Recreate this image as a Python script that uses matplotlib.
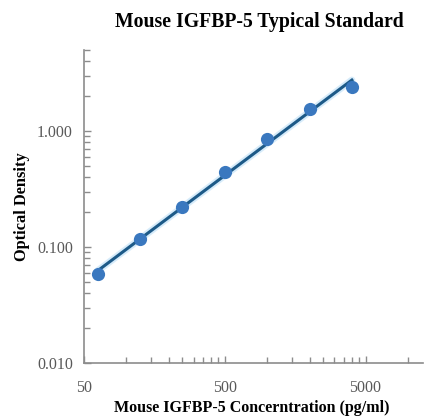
import numpy as np
import matplotlib
matplotlib.use("Agg")
import matplotlib.pyplot as plt
from matplotlib.ticker import FixedLocator, FixedFormatter, NullFormatter

conc = [62.5, 125, 250, 500, 1000, 2000, 4000]
od = [0.058, 0.117, 0.221, 0.443, 0.853, 1.55, 2.39]
x_ticks = [50, 500, 5000]
x_tick_labels = ["50", "500", "5000"]
y_ticks = [0.01, 0.1, 1.0]
y_tick_labels = ["0.010", "0.100", "1.000"]

title = "Mouse IGFBP-5 Typical Standard"
xlabel = "Mouse IGFBP-5 Concerntration (pg/ml)"
ylabel = "Optical Density"

serif = ["Liberation Serif", "DejaVu Serif"]
grey = "#8c8c8c"
label_grey = "#595959"

fig = plt.figure(figsize=(4.24, 4.16), dpi=100)
ax = fig.add_axes([84/424, 1-363/416, (423-84)/424, (363-50)/416])
ax.set_xscale("log")
ax.set_yscale("log")
ax.set_xlim(50, 12800)
ax.set_ylim(0.01, 5.0)

# fit line (power trend)
lx, ly = np.log10(conc), np.log10(od)
k, b = np.polyfit(lx, ly, 1)
xf = np.array([conc[0], conc[-1]])
yf = 10 ** (k * np.log10(xf) + b)
ax.plot(xf, yf, color="#b5dcf7", lw=5, alpha=0.55, solid_capstyle="round", zorder=2)
ax.plot(xf, yf, color="#1d5a88", lw=2.2, zorder=3)
ax.plot(conc, od, "o", color="#3a78bf", markersize=9.5, markeredgewidth=0, zorder=4)

for s in ["top", "right"]:
    ax.spines[s].set_visible(False)
for s in ["left", "bottom"]:
    ax.spines[s].set_color(grey)
    ax.spines[s].set_linewidth(1.2)

xmin = []
for base in [50, 500, 5000]:
    for m in range(2, 10):
        v = base * m
        if v < 12800:
            xmin.append(v)
ax.xaxis.set_major_locator(FixedLocator(x_ticks))
ax.xaxis.set_major_formatter(FixedFormatter(x_tick_labels))
ax.xaxis.set_minor_locator(FixedLocator(xmin))
ax.xaxis.set_minor_formatter(NullFormatter())

ymin = []
for base in [0.01, 0.1, 1.0]:
    for m in range(2, 10):
        v = base * m
        if v <= 5.0:
            ymin.append(v)
ax.yaxis.set_major_locator(FixedLocator(y_ticks))
ax.yaxis.set_major_formatter(FixedFormatter(y_tick_labels))
ax.yaxis.set_minor_locator(FixedLocator(ymin))
ax.yaxis.set_minor_formatter(NullFormatter())

ax.tick_params(axis="both", which="both", direction="in", color=grey, width=1.0,
               labelcolor=label_grey)
ax.tick_params(axis="both", which="major", length=5)
ax.tick_params(axis="both", which="minor", length=4)
ax.tick_params(axis="x", which="major", pad=12)
ax.tick_params(axis="y", which="major", pad=8)
for lab in ax.get_xticklabels() + ax.get_yticklabels():
    lab.set_family(serif)
    lab.set_fontsize(11.5)

fig.text(259/424, 1-22/416, title, ha="center", va="center", family=serif,
         fontweight="bold", fontsize=14.2)
fig.text(252/424, 1-408/416, xlabel, ha="center", va="center", family=serif,
         fontweight="bold", fontsize=11.5)
fig.text(22/424, 1-207/416, ylabel, ha="center", va="center", rotation=90,
         family=serif, fontweight="bold", fontsize=11.8)

fig.savefig("out.png", dpi=100, facecolor="white")
